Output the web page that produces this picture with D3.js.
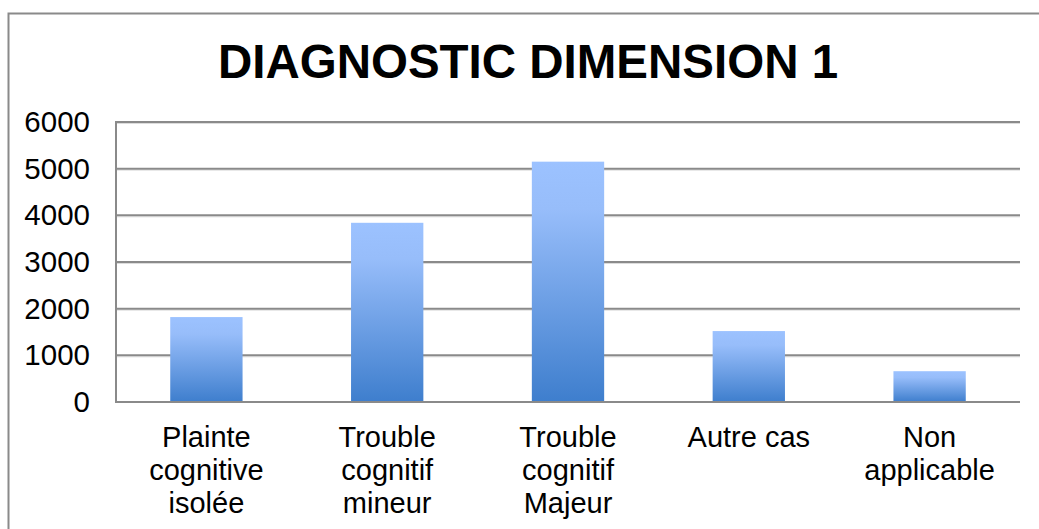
<!DOCTYPE html>
<html>
<head>
<meta charset="utf-8">
<script src="https://cdn.jsdelivr.net/npm/d3@7"></script>
<style>
	html, body { margin: 0; padding: 0; background: #fff; }
	svg { display: block; font-family: "Liberation Sans", Arial, sans-serif; }
</style>
</head>
<body>
<svg id="chart"></svg>
<script>
const title = "DIAGNOSTIC DIMENSION 1"
const categories = ["Plainte cognitive isolée", "Trouble cognitif mineur", "Trouble cognitif Majeur", "Autre cas", "Non applicable"]
const categoryLines = [["Plainte", "cognitive", "isolée"], ["Trouble", "cognitif", "mineur"], ["Trouble", "cognitif", "Majeur"], ["Autre cas"], ["Non", "applicable"]]
const values = [1820, 3840, 5150, 1520, 660]
const yTicks = [0, 1000, 2000, 3000, 4000, 5000, 6000]

const width = 1039
const height = 529
const plot = {left: 116, right: 1020, top: 122, bottom: 402}

const svg = d3.select("#chart")
	.attr("width", width)
	.attr("height", height)

// outer frame (cropped at right and bottom)
svg.append("rect")
	.attr("x", 8.5)
	.attr("y", 13.5)
	.attr("width", width + 20)
	.attr("height", height + 20)
	.attr("fill", "#fff")
	.attr("stroke", "#8a8a8a")
	.attr("stroke-width", 2)

const defs = svg.append("defs")
const grad = defs.append("linearGradient")
	.attr("id", "barGrad")
	.attr("x1", 0).attr("y1", 0)
	.attr("x2", 0).attr("y2", 1)
grad.append("stop").attr("offset", "0%").attr("stop-color", "#9cc2ff")
grad.append("stop").attr("offset", "20%").attr("stop-color", "#97bdfa")
grad.append("stop").attr("offset", "100%").attr("stop-color", "#3e7ecd")

const x = d3.scaleBand()
	.domain(categories)
	.range([plot.left, plot.right])
	.paddingInner(0.6)
	.paddingOuter(0.3)

const y = d3.scaleLinear()
	.domain([0, 6000])
	.range([plot.bottom, plot.top])

svg.append("text")
	.attr("x", 528)
	.attr("y", 78)
	.attr("text-anchor", "middle")
	.attr("font-size", 47.5)
	.attr("font-weight", "bold")
	.attr("fill", "#000")
	.text(title)

// gridlines
const grid = svg.append("g")
grid.selectAll("line.shadow")
	.data(yTicks.filter(d => d > 0))
	.join("line")
	.attr("class", "shadow")
	.attr("x1", plot.left)
	.attr("x2", plot.right)
	.attr("y1", d => y(d) + 1.5)
	.attr("y2", d => y(d) + 1.5)
	.attr("stroke", "#dcdcdc")
	.attr("stroke-width", 1)
grid.selectAll("line.main")
	.data(yTicks.filter(d => d > 0))
	.join("line")
	.attr("class", "main")
	.attr("x1", plot.left)
	.attr("x2", plot.right)
	.attr("y1", d => y(d))
	.attr("y2", d => y(d))
	.attr("stroke", "#8a8a8a")
	.attr("stroke-width", 2)

// y axis labels
const yAxis = svg.append("g")
	.attr("transform", "translate(" + plot.left + ",0)")
	.call(d3.axisLeft(y).tickValues(yTicks).tickSize(0).tickPadding(26).tickFormat(d3.format("d")))
yAxis.select(".domain").remove()
yAxis.attr("font-family", null).attr("font-size", null)
yAxis.selectAll("text")
	.attr("font-size", 29.5)
	.attr("fill", "#000")

// bars
svg.append("g")
	.selectAll("rect")
	.data(values)
	.join("rect")
	.attr("x", (d, i) => x(categories[i]))
	.attr("width", x.bandwidth())
	.attr("y", d => y(d))
	.attr("height", d => y(0) - y(d))
	.attr("fill", "url(#barGrad)")

// axis lines
svg.append("line")
	.attr("x1", plot.left).attr("x2", plot.left)
	.attr("y1", plot.top - 1).attr("y2", plot.bottom + 1)
	.attr("stroke", "#8a8a8a")
	.attr("stroke-width", 2)
svg.append("line")
	.attr("x1", plot.left - 1).attr("x2", plot.right)
	.attr("y1", plot.bottom).attr("y2", plot.bottom)
	.attr("stroke", "#8a8a8a")
	.attr("stroke-width", 2)

// category labels
const labels = svg.append("g")
	.selectAll("text")
	.data(categoryLines)
	.join("text")
	.attr("text-anchor", "middle")
	.attr("font-size", 29)
	.attr("fill", "#000")
labels.selectAll("tspan")
	.data((d, i) => d.map(line => ({line, i})))
	.join("tspan")
	.attr("x", d => x(categories[d.i]) + x.bandwidth() / 2)
	.attr("y", (d, j) => 447 + j * 33)
	.text(d => d.line)
</script>
</body>
</html>
